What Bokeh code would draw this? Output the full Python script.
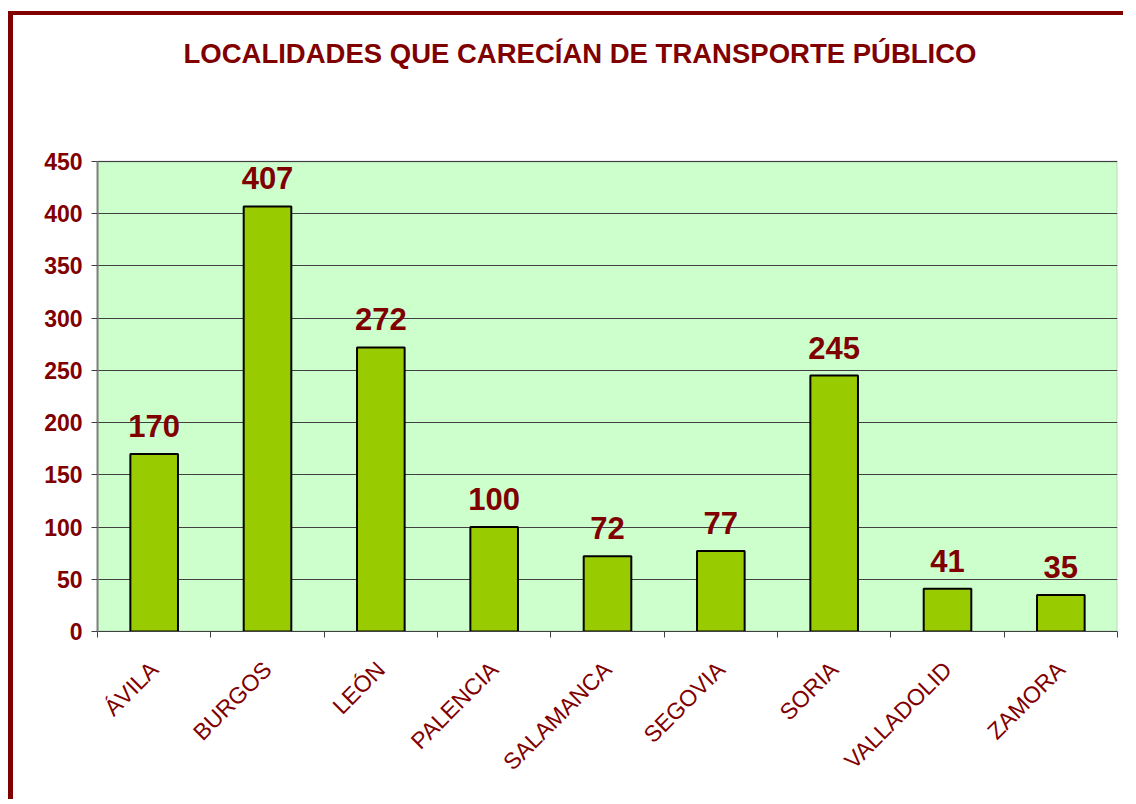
from math import pi
from bokeh.plotting import figure
from bokeh.models import (FactorRange, Range1d, LinearAxis, CategoricalAxis,
                          FixedTicker, ColumnDataSource, BoxAnnotation, Label)
from bokeh.core.properties import value
from bokeh.embed import file_html
from bokeh.resources import INLINE

provincias = ["ÁVILA", "BURGOS", "LEÓN", "PALENCIA", "SALAMANCA",
              "SEGOVIA", "SORIA", "VALLADOLID", "ZAMORA"]
localidades = [170, 407, 272, 100, 72, 77, 245, 41, 35]
y_ticks = [0, 50, 100, 150, 200, 250, 300, 350, 400, 450]
titulo = "LOCALIDADES QUE CARECÍAN DE TRANSPORTE PÚBLICO"

DARK_RED = "#800000"
FONT = value("Liberation Sans")

# layout (pixels): the frame spans the whole height above the x axis;
# the green plot area occupies its lower PLOT_H pixels
FIG_H = 788
BOTTOM = 172
FRAME_H = FIG_H - BOTTOM
PLOT_H = 470
TITLE_UP = 108          # title baseline above the plot-area top
y_max = y_ticks[-1]
y_end = y_max * FRAME_H / PLOT_H
title_y = y_max + TITLE_UP * y_max / PLOT_H

src = ColumnDataSource(dict(x=provincias, top=localidades,
                            lbl=[str(v) for v in localidades]))

p = figure(width=1115, height=FIG_H, output_backend="svg", toolbar_location=None,
           x_range=FactorRange(factors=provincias),
           y_range=Range1d(y_ticks[0], y_end),
           x_axis_location=None, y_axis_location=None,
           min_border_left=84, min_border_right=11,
           min_border_top=0, min_border_bottom=BOTTOM)
p.title_location = None
p.styles = {"border-top": f"4px solid {DARK_RED}",
            "border-left": f"5px solid {DARK_RED}",
            "margin-top": "11px", "margin-left": "8px"}
p.background_fill_color = "white"
p.border_fill_color = "white"
p.outline_line_color = None

# green plot area with grey border
p.add_layout(BoxAnnotation(bottom=y_ticks[0], top=y_max, level="image",
                           fill_color="#CCFFCC", fill_alpha=1.0,
                           line_color="#808080", line_width=2))

# y axis
yax = LinearAxis(ticker=FixedTicker(ticks=y_ticks, minor_ticks=[]),
                 bounds=(y_ticks[0], y_max))
yax.axis_line_color = "#808080"
yax.axis_line_width = 2
yax.major_tick_line_color = "#404040"
yax.major_tick_out = 6
yax.major_tick_in = 0
yax.minor_tick_line_color = None
yax.major_label_text_font = "Liberation Sans"
yax.major_label_text_font_size = "23px"
yax.major_label_text_font_style = "bold"
yax.major_label_text_color = DARK_RED
yax.major_label_standoff = 9
p.add_layout(yax, "left")

# x axis: ticks between categories (synthetic coordinates of the factor range)
xedge = LinearAxis(ticker=FixedTicker(ticks=[], minor_ticks=list(range(len(provincias) + 1))))
xedge.axis_line_color = "#404040"
xedge.axis_line_width = 1
xedge.major_tick_line_color = None
xedge.minor_tick_line_color = "#404040"
xedge.minor_tick_out = 6
xedge.minor_tick_in = 0
xedge.major_label_standoff = 0
p.add_layout(xedge, "below")

# x axis: category labels
xcat = CategoricalAxis()
xcat.axis_line_color = None
xcat.major_tick_line_color = None
xcat.minor_tick_line_color = None
xcat.major_label_orientation = pi / 4
xcat.major_label_text_font = "Liberation Sans"
xcat.major_label_text_font_size = "23px"
xcat.major_label_text_color = DARK_RED
xcat.major_label_standoff = 22
p.add_layout(xcat, "below")

p.xgrid.visible = False
p.ygrid.ticker = FixedTicker(ticks=y_ticks)
p.grid.grid_line_color = "#404040"
p.grid.grid_line_width = 1

p.vbar(x="x", top="top", width=0.42, source=src,
       fill_color="#99CC00", line_color="black", line_width=2)

p.text(x="x", y="top", text="lbl", source=src,
       text_align="center", text_baseline="alphabetic", y_offset=-28,
       text_font=FONT, text_font_size="31px", text_font_style="bold",
       text_color=DARK_RED)

p.add_layout(Label(x=0, y=title_y, x_offset=86, text=titulo,
                   text_align="left", text_baseline="alphabetic",
                   text_font="Liberation Sans", text_font_size="27.5px",
                   text_font_style="bold", text_color=DARK_RED))

open("out.html", "w").write(file_html(p, INLINE))
